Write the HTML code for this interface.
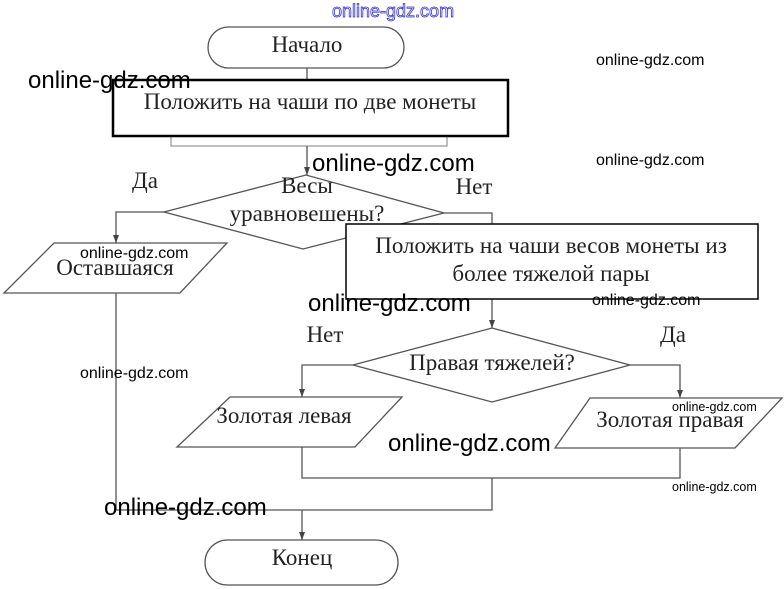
<!DOCTYPE html>
<html><head><meta charset="utf-8"><style>
html,body{margin:0;padding:0;background:#fff;}
svg{display:block;}
.s{font-family:"Liberation Serif","Noto Serif CJK SC",serif;font-size:23px;fill:#222;}
.w{font-family:"Liberation Sans","Noto Sans CJK SC",sans-serif;fill:#000;}
</style></head><body>
<svg width="784" height="589" viewBox="0 0 784 589" xmlns="http://www.w3.org/2000/svg">
<defs><marker id="a" markerWidth="8" markerHeight="6" refX="8" refY="3" orient="auto" markerUnits="userSpaceOnUse"><path d="M0,0 L8,3 L0,6 Z" fill="#444"/></marker></defs>
<g stroke="#555" stroke-width="1.3" fill="none">
<rect x="208" y="27" width="196" height="41" rx="20.5"/>
<line x1="307" y1="68" x2="307" y2="80"/>
<polyline points="171,136 171,146 447,146 447,136" stroke="#999"/>
<line x1="307" y1="146" x2="307" y2="175" marker-end="url(#a)"/>
<polygon points="164,212 306,175 444,213 303,249"/>
<polyline points="164,212 116,212 116,243" marker-end="url(#a)"/>
<polygon points="54,243 227,243 180,293 4,293"/>
<polyline points="116,293 116,510 492,510 492,478"/>
<line x1="302" y1="510" x2="302" y2="540" marker-end="url(#a)"/>
<polyline points="444,213 492,213 492,224"/>
<line x1="492" y1="299" x2="492" y2="328" marker-end="url(#a)"/>
<polygon points="353,365 492,328 630,365 492,402"/>
<polyline points="353,365 302,365 302,397" marker-end="url(#a)"/>
<polyline points="630,365 680,365 680,398" marker-end="url(#a)"/>
<polygon points="230,397 402,397 355,447 177,447"/>
<polygon points="590,398 782,398 735,448 555,448"/>
<polyline points="302,447 302,478 680,478 680,448"/>
<rect x="205" y="540" width="193" height="45" rx="22.5"/>
</g>
<rect x="113" y="80" width="395" height="56" fill="#fff" stroke="#000" stroke-width="2.5"/>
<rect x="346" y="224" width="412" height="75" fill="#fff" stroke="#000" stroke-width="1.5"/>
<g class="s" text-anchor="middle">
<text x="307" y="52">Начало</text>
<text x="310" y="109">Положить на чаши по две монеты</text>
<text x="307" y="193">Весы</text>
<text x="307" y="221">уравновешены?</text>
<text x="145" y="188">Да</text>
<text x="474" y="194">Нет</text>
<text x="115" y="275">Оставшаяся</text>
<text x="551" y="253">Положить на чаши весов монеты из</text>
<text x="551" y="281">более тяжелой пары</text>
<text x="325" y="342">Нет</text>
<text x="673" y="342">Да</text>
<text x="492" y="370">Правая тяжелей?</text>
<text x="284" y="423">Золотая левая</text>
<text x="670" y="427">Золотая правая</text>
<text x="302" y="565">Конец</text>
</g>
<g class="w">
<text x="332" y="17" font-size="18" fill="#fff" stroke="#33c" stroke-width="0.8">online-gdz.com</text>
<text x="28" y="88" font-size="24">online-gdz.com</text>
<text x="312" y="171" font-size="24">online-gdz.com</text>
<text x="308" y="311" font-size="24">online-gdz.com</text>
<text x="388" y="451" font-size="24">online-gdz.com</text>
<text x="104" y="515" font-size="24">online-gdz.com</text>
<text x="596" y="65" font-size="16">online-gdz.com</text>
<text x="596" y="165" font-size="16">online-gdz.com</text>
<text x="592" y="305" font-size="16">online-gdz.com</text>
<text x="80" y="378" font-size="16">online-gdz.com</text>
<text x="80" y="258" font-size="16">online-gdz.com</text>
<text x="672" y="411" font-size="12.5">online-gdz.com</text>
<text x="672" y="491" font-size="12.5">online-gdz.com</text>
</g>
</svg>
</body></html>
